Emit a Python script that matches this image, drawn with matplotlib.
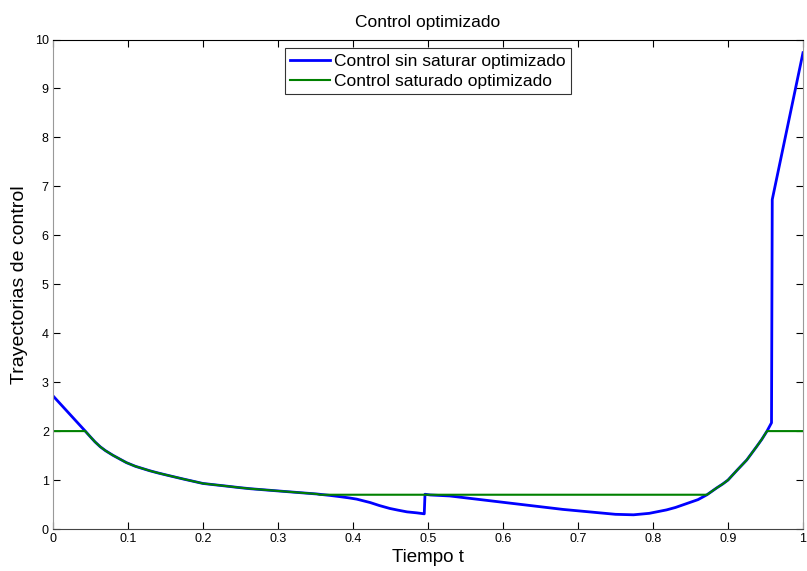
import matplotlib
matplotlib.use('Agg')
import matplotlib.pyplot as plt

plt.rcParams['font.family'] = ['Liberation Sans', 'DejaVu Sans']

# control sin saturar
t_blue = [0, 0.043, 0.050, 0.056, 0.063, 0.070, 0.080, 0.089, 0.098, 0.110, 0.129,
          0.140, 0.152, 0.163, 0.174, 0.187, 0.2, 0.232, 0.249, 0.263, 0.298,
          0.352, 0.370, 0.383, 0.395, 0.405, 0.423, 0.435, 0.449, 0.460, 0.472,
          0.485, 0.495, 0.496, 0.503, 0.529, 0.592, 0.680, 0.729, 0.750, 0.774,
          0.795, 0.818, 0.830, 0.845, 0.860, 0.872, 0.885, 0.893, 0.9, 0.912,
          0.925, 0.938, 0.945, 0.952, 0.958, 0.959, 1.0]
u_blue = [2.72, 2.0, 1.88, 1.78, 1.68, 1.60, 1.505, 1.43, 1.355, 1.28, 1.19,
          1.145, 1.10, 1.06, 1.02, 0.975, 0.93, 0.875, 0.845, 0.823, 0.78,
          0.715, 0.685, 0.66, 0.635, 0.61, 0.54, 0.48, 0.42, 0.385, 0.35,
          0.33, 0.31, 0.71, 0.695, 0.675, 0.56, 0.40, 0.33, 0.30, 0.29,
          0.32, 0.39, 0.44, 0.52, 0.60, 0.70, 0.84, 0.92, 1.0, 1.2,
          1.41, 1.68, 1.83, 2.0, 2.17, 6.73, 9.73]

# control saturado
t_green = [0, 0.043, 0.050, 0.056, 0.063, 0.070, 0.080, 0.089, 0.098, 0.110, 0.129,
           0.140, 0.152, 0.163, 0.174, 0.187, 0.2, 0.232, 0.249, 0.263, 0.298,
           0.352, 0.356, 0.872, 0.885, 0.893, 0.9, 0.912, 0.925, 0.938, 0.945,
           0.952, 1.0]
u_green = [2.0, 2.0, 1.88, 1.78, 1.68, 1.60, 1.505, 1.43, 1.355, 1.28, 1.19,
           1.145, 1.10, 1.06, 1.02, 0.975, 0.93, 0.875, 0.845, 0.823, 0.78,
           0.715, 0.70, 0.70, 0.84, 0.92, 1.0, 1.2, 1.41, 1.68, 1.83,
           2.0, 2.0]

xticks = [0, 0.1, 0.2, 0.3, 0.4, 0.5, 0.6, 0.7, 0.8, 0.9, 1]
xticklabels = ['0', '0.1', '0.2', '0.3', '0.4', '0.5', '0.6', '0.7', '0.8', '0.9', '1']
yticks = list(range(0, 11))

fig = plt.figure(figsize=(8.07, 5.71), dpi=100)
ax = fig.add_axes([53/807, 1 - 529/571, 750/807, 489.5/571])

ax.plot(t_blue, u_blue, color='#0000ff', lw=2.0, label='Control sin saturar optimizado')
ax.plot(t_green, u_green, color='#008000', lw=1.5, label='Control saturado optimizado')

ax.set_xlim(0, 1)
ax.set_ylim(0, 10)
ax.set_xticks(xticks)
ax.set_xticklabels(xticklabels)
ax.set_yticks(yticks)

ax.tick_params(direction='in', top=True, right=True, length=5, width=0.8,
               labelsize=9, pad=3)
ax.spines['left'].set_color('#999999')
ax.spines['right'].set_color('#999999')
ax.spines['bottom'].set_color('#444444')
ax.spines['top'].set_color('black')

ax.set_title('Control optimizado', fontsize=12.5, pad=9)
ax.set_xlabel('Tiempo t', fontsize=13.5, labelpad=3)
ax.set_ylabel('Trayectorias de control', fontsize=14, labelpad=5)

leg = ax.legend(loc='upper center', bbox_to_anchor=(0.5, 0.982), fontsize=12.5,
                frameon=True, fancybox=False, borderpad=0.3, labelspacing=0.28,
                handlelength=2.3, handletextpad=0.2, borderaxespad=0)
leg.get_frame().set_edgecolor('black')
leg.get_frame().set_linewidth(0.8)

fig.savefig('out.png', dpi=100)
